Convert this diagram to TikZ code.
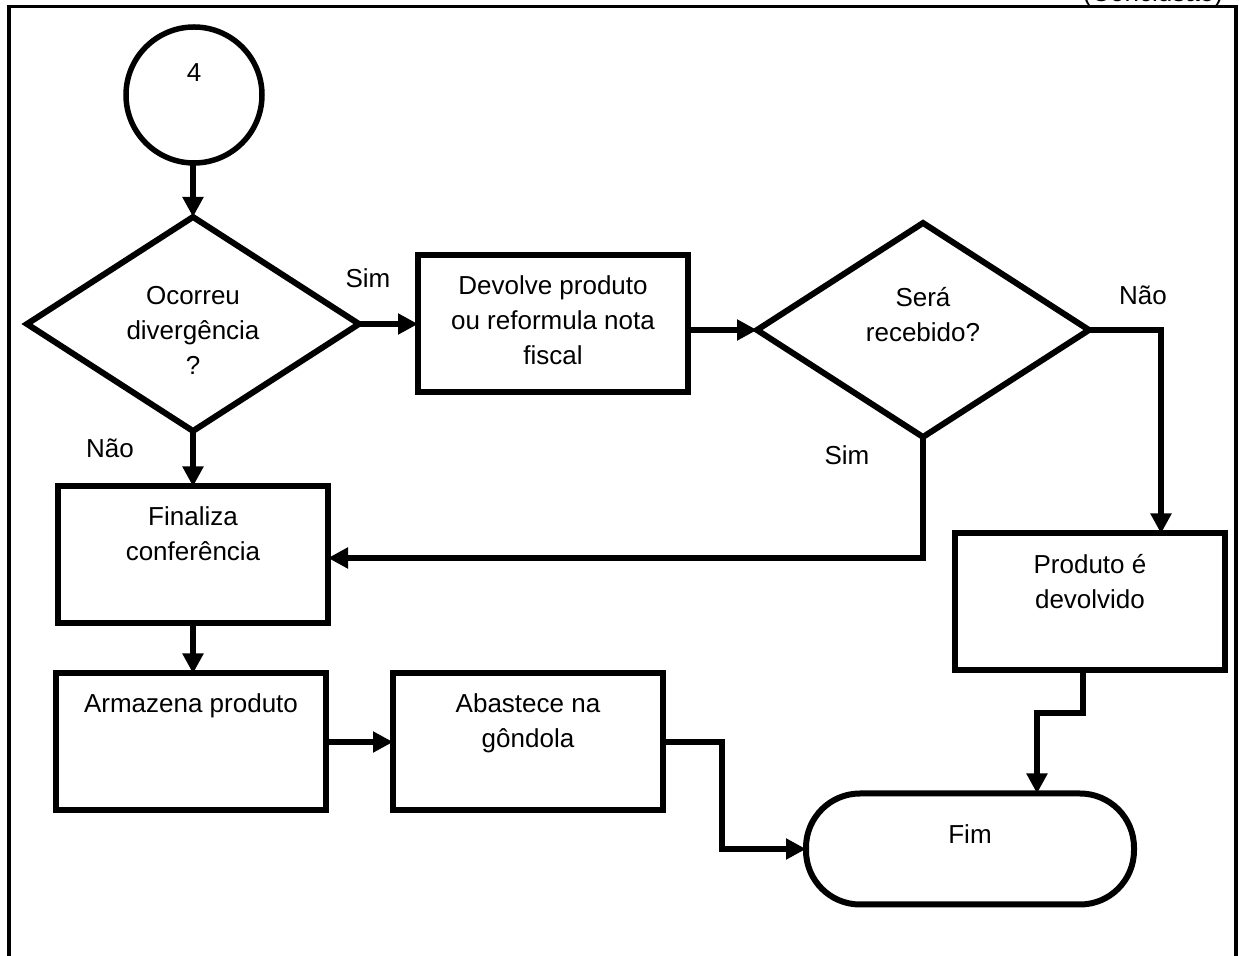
\documentclass[tikz,border=0pt]{standalone}
\usepackage{fontspec}
\setmainfont{Liberation Sans}
\usetikzlibrary{positioning}
\usetikzlibrary{shapes.geometric}
\usetikzlibrary{arrows.meta}

\begin{document}
\begin{tikzpicture}[x=0.5pt, y=-0.5pt,
  every node/.style={font=\fontsize{13pt}{17.5pt}\selectfont},
  caixa/.style={draw, rectangle, line width=3pt, minimum width=135pt, minimum height=68.5pt, inner sep=0pt, outer sep=0pt},
  decisao/.style={draw, diamond, line width=3pt, minimum width=166pt, minimum height=107pt, inner sep=0pt, outer sep=0pt},
  txt/.style={align=center, inner sep=0pt},
  seta/.style={line width=3pt, -{Triangle[length=10pt,width=10pt]}}]
 	 % Size of the page
 	 \path[use as bounding box] (0,0) rectangle (1239,956);

 	 % Frame, open at the bottom
 	 \draw[line width=1.75pt] (9,970) -- (9,6.5) -- (1236,6.5) -- (1236,970);
 	 \node[anchor=base east] (conclusao) at (1230,2) {(Conclusão)};

 	 % Shapes
 	 \node[draw, circle, line width=2.75pt, minimum size=68pt, inner sep=0pt, outer sep=0pt] (c4) at (194,95) {};
 	 \node[txt] (c4t) at (194,73) {4};

 	 \node[decisao] (d1) at (193,324) {};
 	 \node[txt] (d1t) at (193,330) {Ocorreu\\divergência\\?};

 	 \node[caixa] (devolve) at (553,324) {};
 	 \node[txt, below=10pt of devolve.north] (devolvet) {Devolve produto\\ou reformula nota\\fiscal};

 	 \node[decisao] (d2) at (923,330) {};
 	 \node[txt] (d2t) at (923,315) {Será\\recebido?};

 	 \node[caixa] (finaliza) at (193,555) {};
 	 \node[txt, below=10pt of finaliza.north] (finalizat) {Finaliza\\conferência};

 	 \node[caixa] (armazena) at (191,742) {};
 	 \node[txt, below=10pt of armazena.north] (armazenat) {Armazena produto};

 	 \node[caixa] (abastece) at (528,742) {};
 	 \node[txt, below=10pt of abastece.north] (abastecet) {Abastece na\\gôndola};

 	 \node[caixa] (produto) at (1090,602) {};
 	 \node[txt, below=10pt of produto.north] (produtot) {Produto é\\devolvido};

 	 \node[draw, rectangle, rounded corners=27pt, line width=3pt, minimum width=164pt, minimum height=55.5pt, outer sep=0pt] (fim) at (970,849) {};
 	 \node[txt, below=15.5pt of fim.north] (fimt) {Fim};

 	 % Bends of the connectors
 	 \coordinate (naoR) at (1161,330);
 	 \coordinate (simB) at (923,558);
 	 \coordinate (absR) at (722,742);
 	 \coordinate (prodB) at (1083,713);
 	 \coordinate (fimT) at (1037,713);

 	 % Connectors
 	 \draw[seta] (d1.north |- c4.south) -- (d1.north);
 	 \draw[seta] (d1.east) -- (devolve.west);
 	 \draw[seta] (devolve.east |- d2.west) -- (d2.west);
 	 \draw[seta] (d2.east) -- (naoR) -- (naoR |- produto.north);
 	 \draw[seta] (d2.south) -- (simB) -- (simB -| finaliza.east);
 	 \draw[seta] (d1.south) -- (finaliza.north);
 	 \draw[seta] (finaliza.south) -- (finaliza.south |- armazena.north);
 	 \draw[seta] (armazena.east) -- (abastece.west);
 	 \draw[seta] (abastece.east) -- (absR) |- (fim.west);
 	 \draw[seta] (prodB |- produto.south) -- (prodB) -- (fimT) -- (fimT |- fim.north);

 	 % Answers on the branches
 	 \foreach \nome/\pos/\resp in {sim1/{(368,278)}/Sim, nao1/{(110,448)}/Não, sim2/{(847,455)}/Sim, nao2/{(1143,295)}/Não} {
 	   \node (\nome) at \pos {\resp};
 	 }
\end{tikzpicture}
\end{document}
